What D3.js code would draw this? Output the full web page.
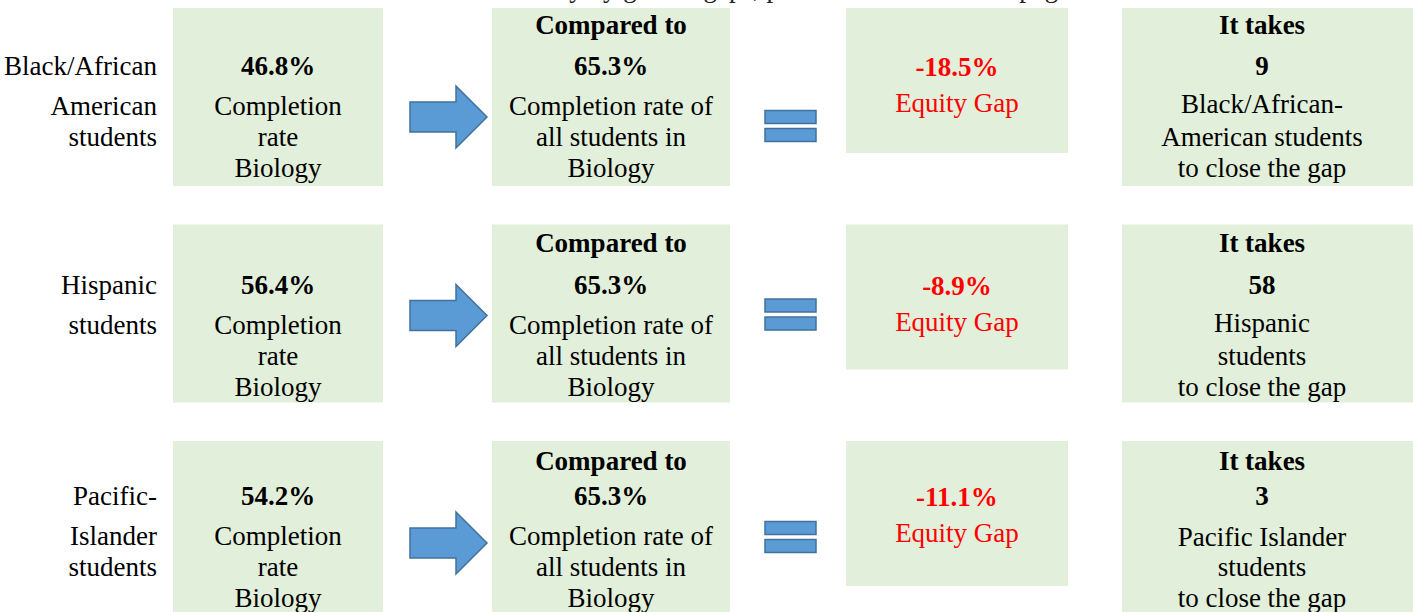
<!DOCTYPE html>
<html>
<head>
<meta charset="utf-8">
<script src="https://cdn.jsdelivr.net/npm/d3@7"></script>
<style>
  html, body { margin: 0; padding: 0; background: #fff; overflow: hidden; }
  svg { display: block; font-family: "Liberation Serif", "Times New Roman", serif; }
</style>
</head>
<body>
<svg id="chart" width="1413" height="612"></svg>
<script>
// data
var groupLabels = [["Black/African", "American", "students"], ["Hispanic", "students"], ["Pacific-", "Islander", "students"]];
var groupRates = [46.8, 56.4, 54.2];
var overallRate = [65.3, 65.3, 65.3];
var equityGaps = [-18.5, -8.9, -11.1];
var studentsNeeded = [9, 58, 3];
var closeLabels = [["Black/African-", "American students"], ["Hispanic", "students"], ["Pacific Islander", "students"]];
var subject = "Biology";
var noteText = "For more details on all course outcomes and ethnicity by gender gaps, please refer to table on page 3.";

var svg = d3.select("#chart"),
    fontSize = 27,
    boxFill = "#E2EFDA",
    blue = "#5B9BD5",
    blueEdge = "#41719C";

// rows positioned by a linear scale over the group index
var y = d3.scaleLinear()
    .domain([0, groupRates.length - 1])
    .range([8, 441]);

// box columns
var cols = {
    rate: { x0: 173, x1: 383, cx: 278 },
    all: { x0: 492, x1: 730, cx: 611 },
    gap: { x0: 846, x1: 1068, cx: 957 },
    take: { x0: 1122, x1: 1420, cx: 1262 }
};
var boxH = 178, gapH = 145;
// text lines relative to row top
var hdrY = [17, 18, 20], pctY = 58, l1 = 98, l2 = 129, l3 = 160;
// small row-by-row nudges (text block, arrow, equals sign)
var textShift = [0, 2, -3];
var arrowMid = [109, 91, 102], eqMid = [118, 90, 96];

// page note above, cut off by the top edge
svg.append("text")
    .attr("x", 4)
    .attr("y", -3)
    .attr("font-size", fontSize)
    .attr("fill", "#222")
    .text(noteText);

var row = svg.selectAll("g.row")
    .data(groupRates)
    .join("g")
    .attr("class", "row")
    .attr("transform", function (d, i) { return "translate(0," + y(i) + ")"; });

// boxes
["rate", "all", "gap", "take"].forEach(function (k) {
    row.append("rect")
        .attr("x", cols[k].x0)
        .attr("y", 0)
        .attr("width", cols[k].x1 - cols[k].x0)
        .attr("height", k == "gap" ? gapH : boxH)
        .attr("fill", boxFill);
});

function addText(sel, x, yy, str, opts) {
    opts = opts || {};
    return sel.append("text")
        .attr("x", x)
        .attr("y", yy)
        .attr("dy", "0.35em")
        .attr("text-anchor", opts.anchor || "middle")
        .attr("font-size", fontSize)
        .attr("font-weight", opts.bold ? "bold" : null)
        .attr("fill", opts.color || "#000")
        .text(str);
}

row.each(function (d, i) {
    var g = d3.select(this);
    var s = textShift[i];
    var lineY = [pctY + s, l1 + s, l2 + s];

    // group label
    groupLabels[i].forEach(function (str, j) {
        addText(g, 157, lineY[j], str, { anchor: "end" });
    });

    // group rate
    addText(g, cols.rate.cx, pctY + s, groupRates[i].toFixed(1) + "%", { bold: true });
    addText(g, cols.rate.cx, l1 + s, "Completion");
    addText(g, cols.rate.cx, l2 + s, "rate");
    addText(g, cols.rate.cx, l3 + s, subject);

    // all students
    addText(g, cols.all.cx, hdrY[i], "Compared to", { bold: true });
    addText(g, cols.all.cx, pctY + s, overallRate[i].toFixed(1) + "%", { bold: true });
    addText(g, cols.all.cx, l1 + s, "Completion rate of");
    addText(g, cols.all.cx, l2 + s, "all students in");
    addText(g, cols.all.cx, l3 + s, subject);

    // equity gap
    addText(g, cols.gap.cx, pctY + 1 + s, equityGaps[i].toFixed(1) + "%", { bold: true, color: "#FF0000" });
    addText(g, cols.gap.cx, 95 + s, "Equity Gap", { color: "#FF0000" });

    // students needed
    addText(g, cols.take.cx, hdrY[i], "It takes", { bold: true });
    addText(g, cols.take.cx, pctY + s, studentsNeeded[i], { bold: true });
    addText(g, cols.take.cx, 96 + Math.max(s, 0), closeLabels[i][0]);
    addText(g, cols.take.cx, l2 + s, closeLabels[i][1]);
    addText(g, cols.take.cx, l3 + s, "to close the gap");

    // arrow
    var am = arrowMid[i], ax = 410;
    var arrowPts = [
        [ax, am - 15], [ax + 46, am - 15], [ax + 46, am - 31], [ax + 77, am],
        [ax + 46, am + 31], [ax + 46, am + 15], [ax, am + 15]
    ];
    g.append("path")
        .attr("d", d3.line()(arrowPts) + "Z")
        .attr("fill", blue)
        .attr("stroke", blueEdge)
        .attr("stroke-width", 1.5);

    // equals sign
    var em = eqMid[i];
    [em - 15.5, em + 2.5].forEach(function (top) {
        g.append("rect")
            .attr("x", 765)
            .attr("y", top)
            .attr("width", 51)
            .attr("height", 13)
            .attr("fill", blue)
            .attr("stroke", blueEdge)
            .attr("stroke-width", 1.5);
    });
});
</script>
</body>
</html>
